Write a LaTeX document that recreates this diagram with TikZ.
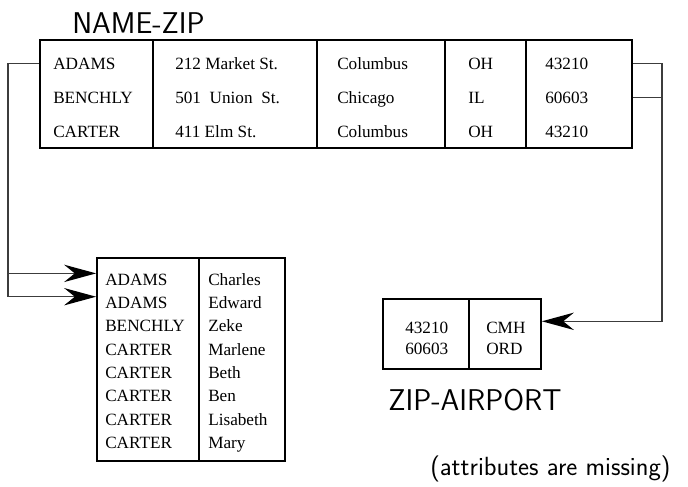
\documentclass[tikz,border=0pt]{standalone}
\usepackage{fontspec}
\newfontfamily\tabfont{Liberation Serif}
\usetikzlibrary{arrows.meta}
\usepackage{xcolor}
\definecolor{LinkGray}{RGB}{60,60,60}

\begin{document}
\begin{tikzpicture}[x=0.75pt,y=-0.75pt,
table/.style={rectangle,draw,line width=1.3pt,inner sep=0pt},
rule/.style={line width=1.3pt},
cell/.style={anchor=base west,inner sep=0pt,font=\tabfont\fontsize{12.9}{15}\selectfont},
title/.style={anchor=base west,inner sep=0pt,font=\sffamily\fontsize{22.5}{27}\selectfont},
note/.style={anchor=base west,inner sep=0pt,font=\sffamily\fontsize{19.7}{24}\selectfont},
link/.style={line width=1.1pt,draw=LinkGray},
arrow/.style={link,-{Stealth[length=24pt,width=13pt,inset=8pt,color=black]}}
]
\useasboundingbox (0,0) rectangle (688,486);

% NAME-ZIP
\node[title] (t1) at (72,33) {NAME-ZIP};
\node[table,minimum width=444pt,minimum height=81pt] (namezip) at (336,94) {};
\foreach \x in {153,317,445,526} \draw[rule] (\x,40) -- (\x,148);
\node[cell] (n1) at (53,69) {ADAMS};
\node[cell] (n2) at (53,103) {BENCHLY};
\node[cell] (n3) at (53,137) {CARTER};
\node[cell] (s1) at (175,69) {212 Market St.};
\node[cell] (s2) at (175,103) {501\ \ Union\ \ St.};
\node[cell] (s3) at (175,137) {411 Elm St.};
\node[cell] (c1) at (337,69) {Columbus};
\node[cell] (c2) at (337,103) {Chicago};
\node[cell] (c3) at (337,137) {Columbus};
\node[cell] (st1) at (468,69) {OH};
\node[cell] (st2) at (468,103) {IL};
\node[cell] (st3) at (468,137) {OH};
\node[cell] (z1) at (545,69) {43210};
\node[cell] (z2) at (545,103) {60603};
\node[cell] (z3) at (545,137) {43210};

% names
\node[table,minimum width=141pt,minimum height=152.25pt] (people) at (191,359.5) {};
\draw[rule] (199,258) -- (199,461);
\foreach \last/\first [count=\i] in {ADAMS/Charles,ADAMS/Edward,BENCHLY/Zeke,CARTER/Marlene,CARTER/Beth,CARTER/Ben,CARTER/Lisabeth,CARTER/Mary}{
  \node[cell] (p\i) at (105,261.7+23.33*\i) {\last};
  \node[cell] (f\i) at (208,261.7+23.33*\i) {\first};
}

% ZIP-AIRPORT
\node[table,minimum width=118.5pt,minimum height=52.5pt] (airport) at (462,334) {};
\draw[rule] (469,299) -- (469,369);
\node[cell] (a1) at (405,333) {43210};
\node[cell] (a2) at (405,354) {60603};
\node[cell] (m1) at (486,333) {CMH};
\node[cell] (m2) at (486,354) {ORD};
\node[title] (t2) at (388,410) {ZIP-AIRPORT};
\node[note] (t3) at (430,475) {(attributes are missing)};

% links
\coordinate (jl) at (8,0);
\coordinate (jr) at (662,0);
\draw[arrow] (namezip.west |- n1) -- (jl |- n1) |- (people.west |- p2.north);
\draw[arrow] (jl |- p1.north) -- (people.west |- p1.north);
\draw[arrow] (namezip.east |- z1) -- (jr |- z1) |- (airport.east |- a1.north);
\draw[link] (namezip.east |- z2) -- (jr |- z2);
\end{tikzpicture}
\end{document}
